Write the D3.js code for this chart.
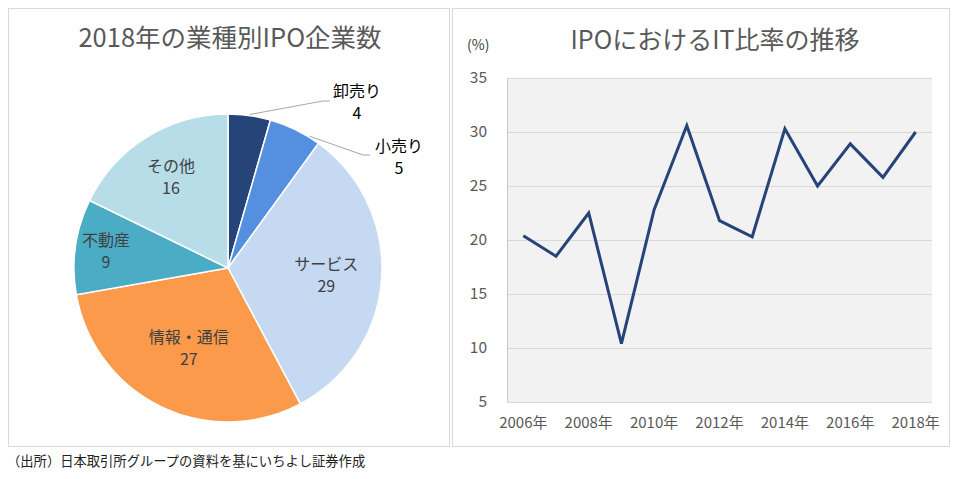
<!DOCTYPE html>
<html>
<head>
<meta charset="utf-8">
<script src="https://cdn.jsdelivr.net/npm/d3@7"></script>
<style>
  body { margin: 0; background: #fff; }
  text { font-family: "Noto Sans CJK JP", "Noto Sans", sans-serif; }
</style>
</head>
<body>
<div id="chart"></div>
<script>
// pie data: industries of 2018 IPO companies
const sectors = ["卸売り", "小売り", "サービス", "情報・通信", "不動産", "その他"]
const counts = [4, 5, 29, 27, 9, 16]
const sectorColors = ["#264478", "#5590e0", "#c5d9f2", "#fb9a4b", "#4bacc6", "#b7dde9"]

// line data: IT share of IPOs
const years = ["2006", "2007", "2008", "2009", "2010", "2011", "2012",
               "2013", "2014", "2015", "2016", "2017", "2018"]
const itShare = [20.4, 18.5, 22.5, 10.4, 22.8, 30.6, 21.8, 20.3, 30.3, 25.0, 28.9, 25.8, 30.0]
const yTicks = [5, 10, 15, 20, 25, 30, 35]

const svg = d3.select('#chart').append('svg')
  .attr('width', 960).attr('height', 479)

// panel frames
svg.append('rect').attr('x', 8.5).attr('y', 8.5).attr('width', 441).attr('height', 438)
  .attr('fill', 'none').attr('stroke', '#d9d9d9')
svg.append('rect').attr('x', 452.5).attr('y', 8.5).attr('width', 497).attr('height', 438)
  .attr('fill', 'none').attr('stroke', '#d9d9d9')

// ---------- pie ----------
const cx = 228, cy = 268, r = 154
svg.append('text').attr('x', 230).attr('y', 47).attr('text-anchor', 'middle')
  .attr('font-size', 25.5).attr('fill', '#595959').text('2018年の業種別IPO企業数')

const pie = d3.pie().sort(null).value(d => d.v)
const arcs = pie(sectors.map((s, i) => ({ name: s, v: counts[i] })))
const arc = d3.arc().innerRadius(0).outerRadius(r)
const gPie = svg.append('g').attr('transform', `translate(${cx},${cy})`)

gPie.selectAll('path').data(arcs).enter().append('path')
  .attr('d', arc)
  .attr('fill', (d, i) => sectorColors[i])
  .attr('stroke', '#fff').attr('stroke-width', 1.5)

// inside labels (distance from centre as fraction of radius)
const labelR = [null, null, 0.64, 0.58, 0.8, 0.7]
arcs.forEach((d, i) => {
  if (!labelR[i]) return
  const a = (d.startAngle + d.endAngle) / 2
  const x = Math.sin(a) * r * labelR[i], y = -Math.cos(a) * r * labelR[i]
  const t = gPie.append('text').attr('text-anchor', 'middle')
    .attr('font-size', 16).attr('fill', '#404040')
  t.append('tspan').attr('x', x).attr('y', y - 5).text(d.data.name)
  t.append('tspan').attr('x', x).attr('y', y + 17).text(d.data.v)
})

// outside labels with leader lines
const outside = [
  { i: 0, ang: null, elbow: [95, -167], end: [102, -167], lab: [129, -168] },
  { i: 1, ang: 0.555, elbow: [135, -113], end: [142, -113], lab: [171, -113] }
]
outside.forEach(o => {
  const d = arcs[o.i]
  const a = o.ang === null ? (d.startAngle + d.endAngle) / 2 : o.ang
  const sx = Math.sin(a) * (r + 1), sy = -Math.cos(a) * (r + 1)
  gPie.append('polyline')
    .attr('points', [[sx, sy], o.elbow, o.end].map(p => p.join(',')).join(' '))
    .attr('fill', 'none').attr('stroke', '#a6a6a6').attr('stroke-width', 1)
  const t = gPie.append('text').attr('text-anchor', 'middle')
    .attr('font-size', 16).attr('fill', '#000')
  t.append('tspan').attr('x', o.lab[0]).attr('y', o.lab[1] - 3).text(d.data.name)
  t.append('tspan').attr('x', o.lab[0]).attr('y', o.lab[1] + 19).text(d.data.v)
})

// ---------- line ----------
svg.append('text').attr('x', 715).attr('y', 49).attr('text-anchor', 'middle')
  .attr('font-size', 25).attr('fill', '#595959').text('IPOにおけるIT比率の推移')
svg.append('text').attr('x', 467).attr('y', 50)
  .attr('font-size', 14).attr('fill', '#404040').text('(%)')

const x = d3.scaleBand().domain(years).range([507, 932])
const y = d3.scaleLinear().domain([5, 35]).range([402, 78])

svg.append('rect').attr('x', 507).attr('y', 78).attr('width', 425).attr('height', 324)
  .attr('fill', '#f2f2f2')

svg.append('g').selectAll('line').data(yTicks).enter().append('line')
  .attr('x1', 507).attr('x2', 932)
  .attr('y1', d => y(d) + 0.5).attr('y2', d => y(d) + 0.5)
  .attr('stroke', '#d9d9d9')
svg.append('line').attr('x1', 507.5).attr('x2', 507.5).attr('y1', 78).attr('y2', 402)
  .attr('stroke', '#c8c8c8')

const yAxis = svg.append('g').attr('transform', 'translate(507,0)')
  .call(d3.axisLeft(y).tickValues(yTicks).tickSize(0).tickPadding(20))
yAxis.select('.domain').remove()
yAxis.selectAll('text').attr('font-size', 15.5).attr('fill', '#595959')
  .attr('font-family', '"Noto Sans CJK JP", sans-serif')

const xAxis = svg.append('g').attr('transform', 'translate(0,402)')
  .call(d3.axisBottom(x).tickValues(years.filter((d, i) => i % 2 === 0))
    .tickFormat(d => d + '年').tickSize(0).tickPadding(15))
xAxis.select('.domain').remove()
xAxis.selectAll('text').attr('font-size', 15).attr('fill', '#595959')
  .attr('font-family', '"Noto Sans CJK JP", sans-serif')

const line = d3.line().x((d, i) => x(years[i]) + x.bandwidth() / 2).y(d => y(d))
svg.append('path').datum(itShare).attr('d', line)
  .attr('fill', 'none').attr('stroke', '#264478').attr('stroke-width', 3)

// source note
svg.append('text').attr('x', 7).attr('y', 466).attr('font-size', 13.3).attr('fill', '#222')
  .text('（出所）日本取引所グループの資料を基にいちよし証券作成')
</script>
</body>
</html>
